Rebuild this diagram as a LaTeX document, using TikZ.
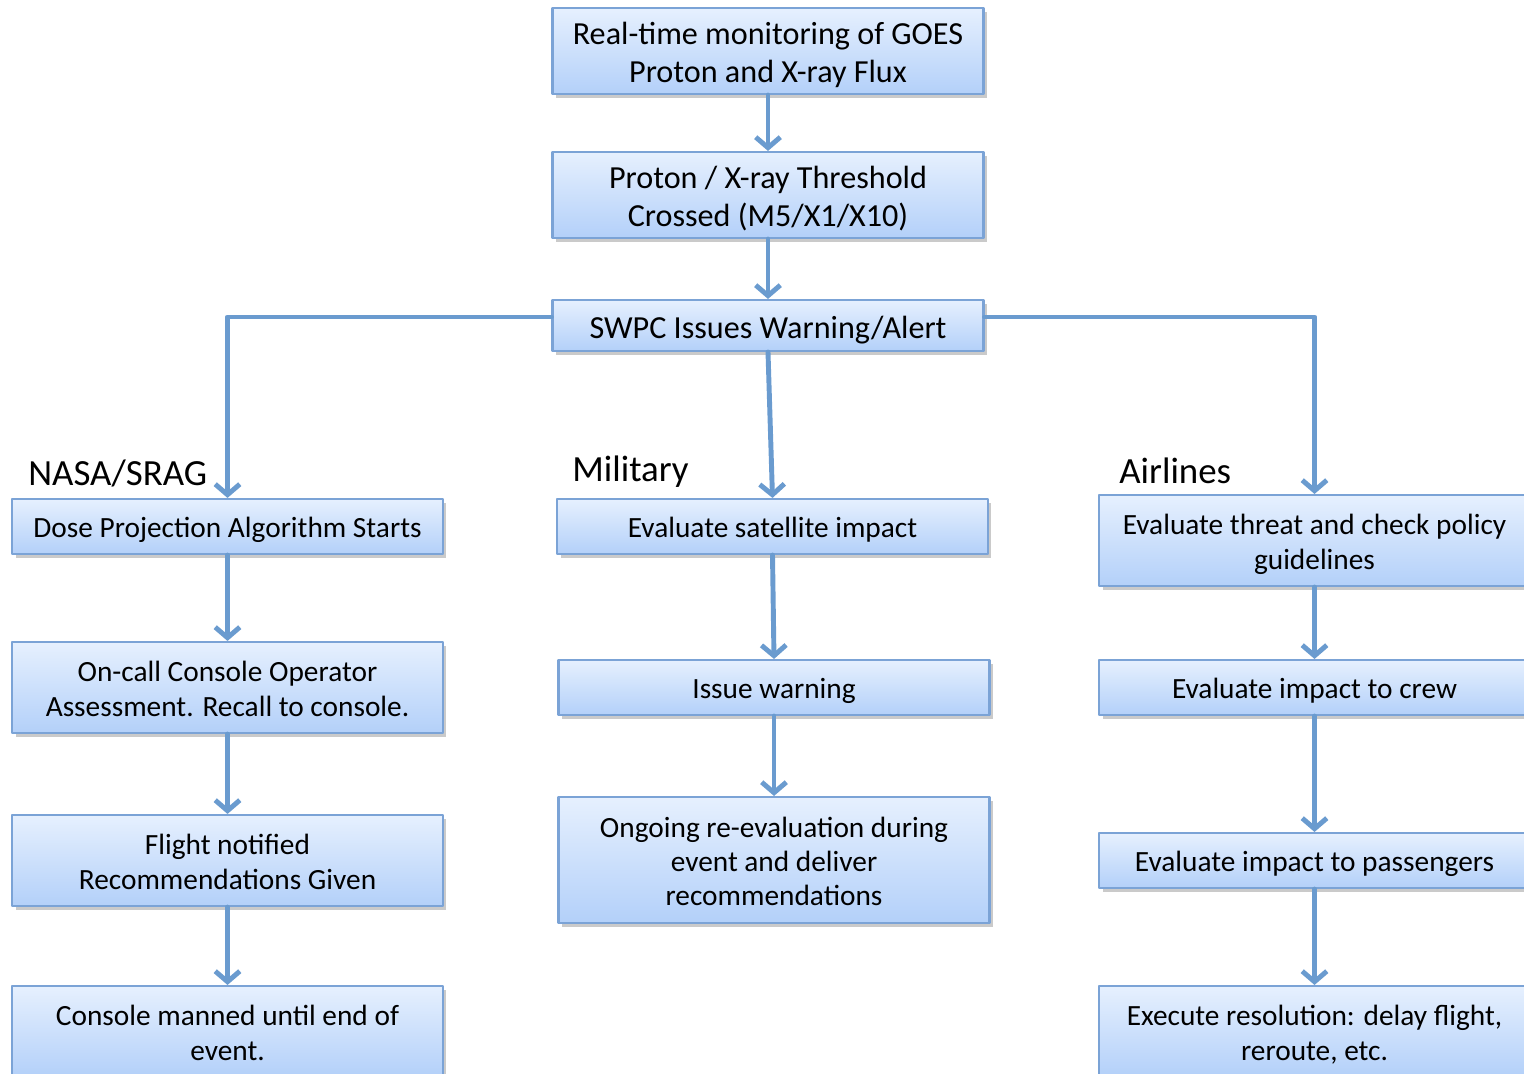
\documentclass[tikz,border=0pt]{standalone}
\usepackage{fontspec}
\setmainfont{Carlito}
\usepackage{tikz}
\usetikzlibrary{arrows.meta,shadows}
\definecolor{boxtop}{HTML}{E6F0FE}
\definecolor{boxbot}{HTML}{B3D0F9}
\definecolor{boxline}{HTML}{7BA3D6}
\definecolor{flowline}{HTML}{6A9BCF}
% struts so that text sits like the slide text
\newcommand\topstrut{\rule{0pt}{1.023em}}
\newcommand\botstrut{\rule[-0.24em]{0pt}{0pt}}
\tikzset{
  every picture/.style={line join=round, line cap=round},
  flowbox/.style={rectangle, draw=boxline, line width=1.2pt, top color=boxtop, bottom color=boxbot,
    drop shadow={shadow xshift=2pt, shadow yshift=-2pt, opacity=0.35, fill=black!60},
    minimum width=8.62cm, inner sep=0pt, align=center, font=\fontsize{16.7}{19.5}\selectfont,
    execute at begin node=\topstrut, execute at end node=\botstrut},
  bigbox/.style={flowbox, font=\fontsize{18.3}{21.8}\selectfont},
  grouplabel/.style={anchor=west, inner sep=0pt, font=\fontsize{21}{24}\selectfont},
  flow/.style={draw=flowline, line width=2.8pt, -{Straight Barb[length=6pt,width=14pt]}},
}
\begin{document}
\begin{tikzpicture}[x=0.02cm,y=-0.02cm]
\useasboundingbox (0,0) rectangle (1524,1074);
% top chain
\node[bigbox, minimum height=1.72cm] (goes) at (768,51) {\topstrut Real-time monitoring of GOES\\Proton and X-ray Flux};
\node[bigbox, minimum height=1.72cm] (thresh) at (768,195) {\topstrut Proton / X-ray Threshold\\Crossed (M5/X1/X10)};
\node[bigbox, minimum height=1.02cm] (swpc) at (768,325.5) {SWPC Issues Warning/Alert};
% group labels
\node[grouplabel] (nasa) at (28,473) {NASA/SRAG};
\node[grouplabel] (mil) at (572,472) {Military};
\node[grouplabel] (air) at (1119,471) {Airlines};
% NASA/SRAG column
\node[flowbox, minimum height=1.1cm] (dose) at (227.5,526.5) {Dose Projection Algorithm Starts};
\node[flowbox, minimum height=1.82cm] (oncall) at (227.5,687.5) {\topstrut On-call Console Operator\\Assessment. Recall to console.};
\node[flowbox, minimum height=1.82cm] (flight) at (227.5,860.5) {\topstrut Flight notified\\Recommendations Given};
\node[flowbox, minimum height=1.82cm] (manned) at (227.5,1031.5) {\topstrut Console manned until end of\\event.};
% Military column
\node[flowbox, minimum height=1.1cm] (sat) at (772.5,526.5) {Evaluate satellite impact};
\node[flowbox, minimum height=1.1cm] (warn) at (774,687.5) {Issue warning};
\node[flowbox, minimum height=2.52cm] (ongoing) at (774,860) {\topstrut Ongoing re-evaluation during\\event and deliver\\recommendations};
% Airlines column
\node[flowbox, minimum height=1.82cm] (threat) at (1314.5,540.5) {\topstrut Evaluate threat and check policy\\guidelines};
\node[flowbox, minimum height=1.1cm] (crew) at (1314.5,687.5) {Evaluate impact to crew};
\node[flowbox, minimum height=1.1cm] (pass) at (1314.5,860.5) {Evaluate impact to passengers};
\node[flowbox, minimum height=1.82cm] (exec) at (1314.5,1031.5) {\topstrut Execute resolution: delay flight,\\reroute, etc.};
% connectors
\draw[flow] (goes) -- (thresh);
\draw[flow] (thresh) -- (swpc);
\draw[flow] (swpc.west |- 0,317) -| (dose.north);
\draw[flow] (swpc.east |- 0,317) -| (threat.north);
\draw[flow] (swpc.south) -- (sat.north);
\draw[flow] (dose) -- (oncall);
\draw[flow] (oncall) -- (flight);
\draw[flow] (flight) -- (manned);
\draw[flow] (sat.south) -- (warn.north);
\draw[flow] (warn) -- (ongoing);
\draw[flow] (threat) -- (crew);
\draw[flow] (crew) -- (pass);
\draw[flow] (pass) -- (exec);
\end{tikzpicture}
\end{document}
